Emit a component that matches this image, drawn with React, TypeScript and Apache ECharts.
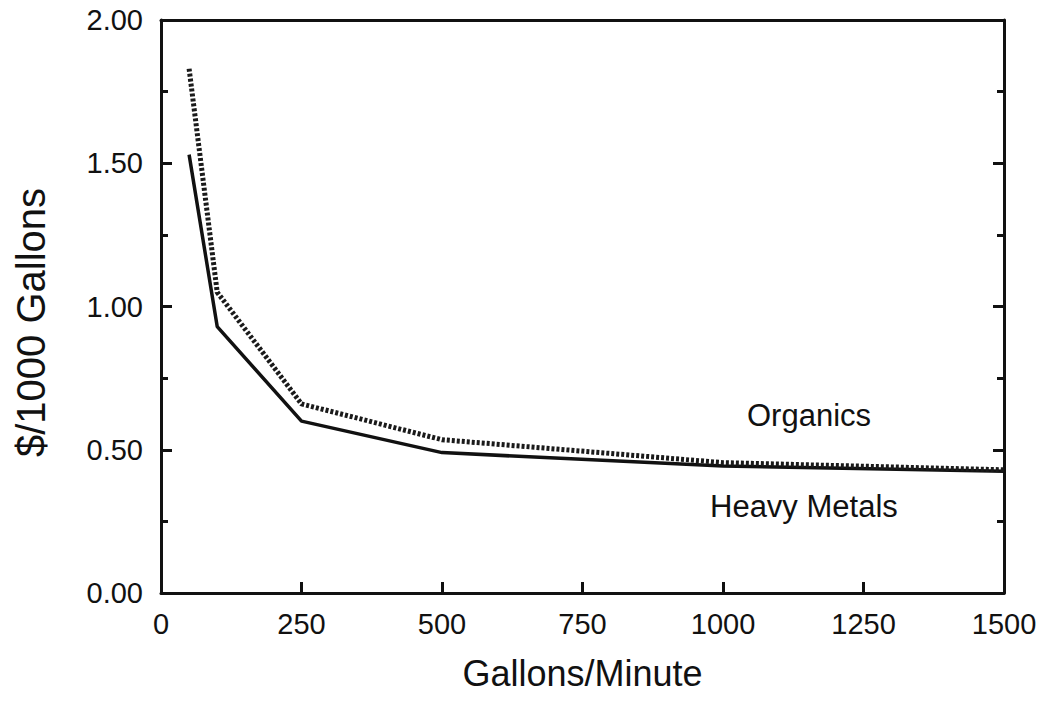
import React, { useEffect, useRef } from "react";
import * as echarts from "echarts";

const gpm = [50, 100, 250, 500, 1000, 1500];
const heavyMetals = [1.53, 0.93, 0.6, 0.49, 0.443, 0.425];
const organics = [1.83, 1.05, 0.66, 0.535, 0.455, 0.43];
const xTicks = [0, 250, 500, 750, 1000, 1250, 1500];
const yTicks = [0, 0.5, 1, 1.5, 2];

const FONT = '"Liberation Sans", Arial, Helvetica, sans-serif';

export default function App() {
  const ref = useRef<HTMLDivElement>(null);
  useEffect(() => {
    if (!ref.current) return;
    const chart = echarts.init(ref.current, undefined, { renderer: "svg" });
    const black = "#111";
    const baseX = {
      type: "value" as const,
      min: xTicks[0],
      max: xTicks[xTicks.length - 1],
      interval: 250,
      splitLine: { show: false },
      axisLine: { show: true, onZero: false, lineStyle: { color: black, width: 3 } },
    };
    const baseY = {
      type: "value" as const,
      min: yTicks[0],
      max: yTicks[yTicks.length - 1],
      interval: 0.5,
      splitLine: { show: false },
      axisLine: { show: true, onZero: false, lineStyle: { color: black, width: 3 } },
      axisTick: { show: true, inside: true, length: 11, lineStyle: { color: black, width: 3 } },
      minorTick: { show: true, splitNumber: 2, length: 7, lineStyle: { color: black, width: 3 } },
    };
    chart.setOption({
      animation: false,
      backgroundColor: "#fff",
      textStyle: { fontFamily: FONT },
      grid: { left: 161, right: 41, top: 20, bottom: 113, containLabel: false },
      xAxis: [
        {
          ...baseX,
          position: "bottom",
          name: "Gallons/Minute",
          nameLocation: "middle",
          nameGap: 62,
          nameTextStyle: { fontSize: 36, color: black, fontFamily: FONT },
          axisTick: { show: true, inside: true, length: 11, lineStyle: { color: black, width: 3 } },
          axisLabel: {
            fontSize: 29,
            color: black,
            margin: 16,
            fontFamily: FONT,
            formatter: (v: number) => String(v),
          },
        },
        {
          ...baseX,
          position: "top",
          axisTick: { show: false },
          axisLabel: { show: false },
        },
      ],
      yAxis: [
        {
          ...baseY,
          position: "left",
          name: "$/1000 Gallons",
          nameLocation: "middle",
          nameGap: 110,
          nameTextStyle: { fontSize: 40, color: black, fontFamily: FONT, padding: [0, 32, 0, 0] },
          axisLabel: {
            fontSize: 29,
            color: black,
            margin: 18,
            fontFamily: FONT,
            formatter: (v: number) => v.toFixed(2),
          },
        },
        {
          ...baseY,
          position: "right",
          axisLabel: { show: false },
        },
      ],
      graphic: [
        {
          type: "text",
          left: 747,
          top: 400,
          style: { text: "Organics", font: `31px ${FONT}`, fill: black },
        },
        {
          type: "text",
          left: 710,
          top: 491,
          style: { text: "Heavy Metals", font: `31px ${FONT}`, fill: black },
        },
      ],
      series: [
        {
          name: "Heavy Metals",
          type: "line",
          xAxisIndex: 0,
          yAxisIndex: 0,
          data: gpm.map((x, i) => [x, heavyMetals[i]]),
          showSymbol: false,
          symbol: "none",
          lineStyle: { color: black, width: 3.5, type: "solid" },
        },
        {
          name: "Organics",
          type: "line",
          xAxisIndex: 0,
          yAxisIndex: 0,
          data: gpm.map((x, i) => [x, organics[i]]),
          showSymbol: false,
          symbol: "none",
          lineStyle: { color: "#1a1a1a", width: 5, type: [3, 2] },
        },
      ],
    });
    return () => chart.dispose();
  }, []);
  return (
    <div
      ref={ref}
      style={{ position: "fixed", left: 0, top: 0, width: 1045, height: 706, background: "#fff" }}
    />
  );
}
